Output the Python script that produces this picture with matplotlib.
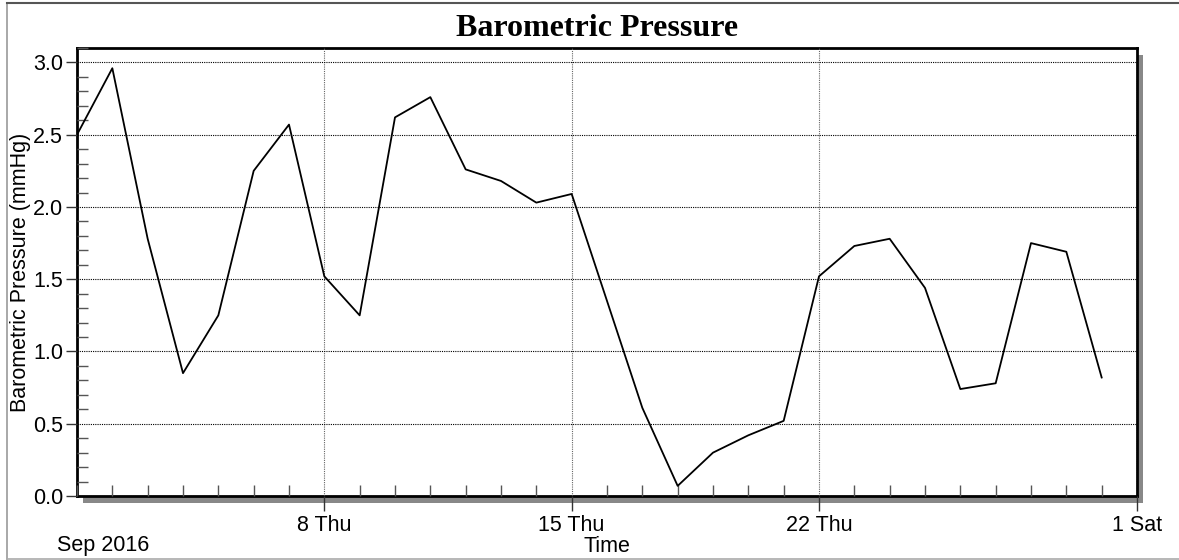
import datetime as dt

import matplotlib

matplotlib.use("Agg")
import matplotlib.pyplot as plt
import matplotlib.dates as mdates
from matplotlib.lines import Line2D
from matplotlib.patches import Rectangle
from matplotlib.ticker import MultipleLocator, FixedLocator, FuncFormatter

# ── Data ──────────────────────────────────────────────────────────────────────
days = list(range(1, 31))  # Sep 2016
pressure = [
    2.50, 2.96, 1.78, 0.85, 1.25, 2.25, 2.57, 1.52, 1.25, 2.62,
    2.76, 2.26, 2.18, 2.03, 2.09, 1.35, 0.61, 0.07, 0.30, 0.42,
    0.52, 1.52, 1.73, 1.78, 1.44, 0.74, 0.78, 1.75, 1.69, 0.82,
]
tick_dates = [dt.date(2016, 9, 8), dt.date(2016, 9, 15), dt.date(2016, 9, 22), dt.date(2016, 10, 1)]
tick_labels = ["8 Thu", "15 Thu", "22 Thu", "1 Sat"]

dates = [dt.date(2016, 9, d) for d in days]

SANS = "Liberation Sans"
SERIF = "Liberation Serif"
FS = 15.5
W, H = 1179, 560

# ── Figure ────────────────────────────────────────────────────────────────────
fig = plt.figure(figsize=(W / 100, H / 100), dpi=100, facecolor="white")

L, R, T, B = 77, 1137, 48, 496  # plot area in pixels (from top)
ax = fig.add_axes([L / W, (H - B) / H, (R - L) / W, (B - T) / H], facecolor="white")
ax.set_zorder(2)

# drop shadow behind plot area
fig.add_artist(Rectangle(((L + 6) / W, (H - B - 7) / H), (R - L) / W, (B - T) / H,
                         transform=fig.transFigure, facecolor="#888888",
                         edgecolor="none", zorder=1))

# outer border (left, top, bottom)
fig.add_artist(Line2D([7 / W, 7 / W], [1 / H, 557 / H], transform=fig.transFigure,
                      color="#999999", lw=1.2))
fig.add_artist(Line2D([7 / W, 1], [557 / H, 557 / H], transform=fig.transFigure,
                      color="#555555", lw=1.5))
fig.add_artist(Line2D([7 / W, 1], [1.5 / H, 1.5 / H], transform=fig.transFigure,
                      color="#aaaaaa", lw=1.2))

ax.plot(mdates.date2num(dates), pressure, color="black", lw=1.3, zorder=3)

ax.set_xlim(mdates.date2num(dt.date(2016, 9, 1)), mdates.date2num(dt.date(2016, 10, 1)))
ax.set_ylim(0, 3.1)

# ticks
ax.xaxis.set_major_locator(FixedLocator(mdates.date2num(tick_dates)))
ax.xaxis.set_major_formatter(FuncFormatter(lambda v, p: tick_labels[p] if p is not None and p < len(tick_labels) else ""))
ax.xaxis.set_minor_locator(MultipleLocator(1))
ax.yaxis.set_major_locator(MultipleLocator(0.5))
ax.yaxis.set_minor_locator(MultipleLocator(0.1))
ax.yaxis.set_major_formatter(FuncFormatter(lambda v, p: f"{v:.1f}"))

ax.tick_params(axis="both", which="major", direction="out", length=8, width=1,
               color="#333333", labelsize=FS, pad=2)
ax.tick_params(axis="x", which="major", length=11, pad=3)
ax.tick_params(axis="both", which="minor", direction="in", length=8, width=1, color="#555555")
for lbl in ax.get_xticklabels() + ax.get_yticklabels():
    lbl.set_fontfamily(SANS)

# grid
ax.grid(axis="y", which="major", color="black", lw=0.8, ls=(0, (1, 1)))
ax.grid(axis="x", which="major", color="#666666", lw=0.8, ls=(0, (1, 1)))
ax.set_axisbelow(False)

for s in ax.spines.values():
    s.set_linewidth(2)
    s.set_color("black")

# labels
ax.set_ylabel("Barometric Pressure (mmHg)", fontsize=FS, family=SANS, labelpad=1)
ax.set_xlabel("Time", fontsize=FS, family=SANS, labelpad=0)
fig.text(57 / W, 1 - 545 / H, "Sep 2016", fontsize=FS, family=SANS, ha="left", va="center")
fig.text(597 / W, 1 - 28 / H, "Barometric Pressure", fontsize=23, family=SERIF,
         fontweight="bold", ha="center", va="center")

fig.savefig("out.png", dpi=100, facecolor="white")
